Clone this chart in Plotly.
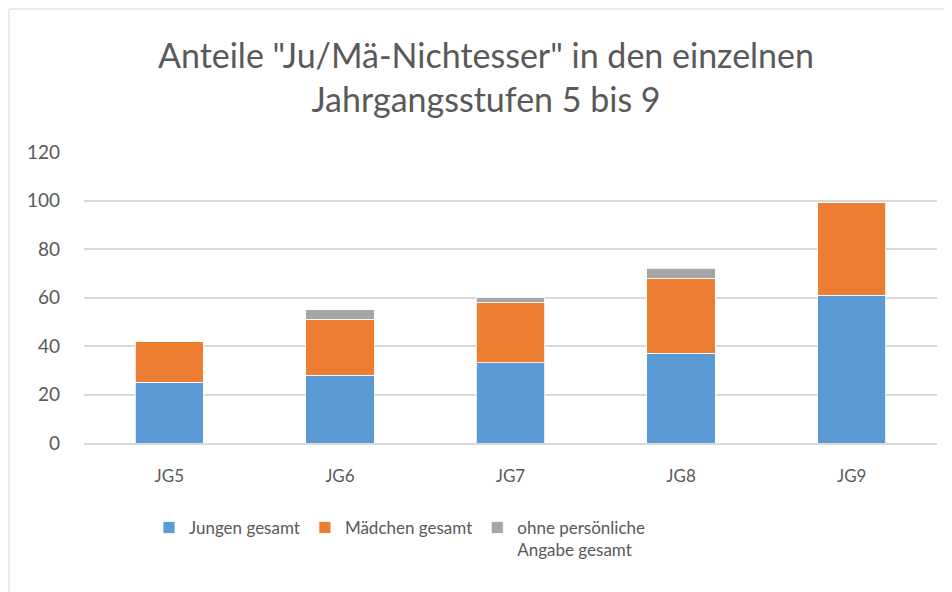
import plotly.graph_objects as go

categories = ["JG5", "JG6", "JG7", "JG8", "JG9"]
jungen = [25, 28, 33, 37, 61]
maedchen = [17, 23, 25, 31, 38]
ohne = [0, 4, 2, 4, 0]
series_names = ["Jungen gesamt", "Mädchen gesamt", "ohne persönliche<br>Angabe gesamt"]
colors = ["#5B9BD5", "#ED7D31", "#A5A5A5"]
title_text = 'Anteile "Ju/Mä-Nichtesser" in den einzelnen<br>Jahrgangsstufen 5 bis 9'

fig = go.Figure()
for name, vals, col in zip(series_names, [jungen, maedchen, ohne], colors):
    fig.add_trace(go.Bar(x=categories, y=vals, name=name,
                         marker=dict(color=col, line=dict(color="white", width=0.8))))

fnt = "Lato, Calibri, Carlito, sans-serif"
L, R, T, B = 76, 23, 144, 157
pw, ph = 952 - L - R, 592 - T - B
fig.update_layout(
    barmode="stack",
    bargap=0.6,
    width=952, height=592,
    paper_bgcolor="white", plot_bgcolor="white",
    margin=dict(l=L, r=R, t=T, b=B, autoexpand=False),
    font=dict(family=fnt, color="#595959", size=17),
    title=dict(text=title_text, x=478 / 952, xanchor="center", xref="container",
               y=1 - 60 / 592, yanchor="middle", yref="container",
               font=dict(size=34, color="#595959")),
    xaxis=dict(showgrid=False, showline=True, linecolor="#D9D9D9", linewidth=1.5,
               ticks="", tickfont=dict(size=17), ticklabelstandoff=17),
    yaxis=dict(range=[0, 120], dtick=20, showgrid=True, gridcolor="#D9D9D9", gridwidth=1.5,
               zeroline=False, ticks="", tickfont=dict(size=19), ticklabelstandoff=23),
    legend=dict(orientation="h", x=(149 - L - 8) / pw, xanchor="left", y=-0.23, yanchor="top",
                font=dict(size=17, color="#595959"), traceorder="normal",
                valign="top", itemwidth=30),
    shapes=[dict(type="rect", xref="paper", yref="paper",
                 x0=-(L - 1) / pw, x1=1 + (R + 20) / pw, y0=-(B + 20) / ph, y1=1 + (T - 1) / ph,
                 line=dict(color="#D9D9D9", width=1), fillcolor="rgba(0,0,0,0)")],
)

fig.write_html("out.html")
